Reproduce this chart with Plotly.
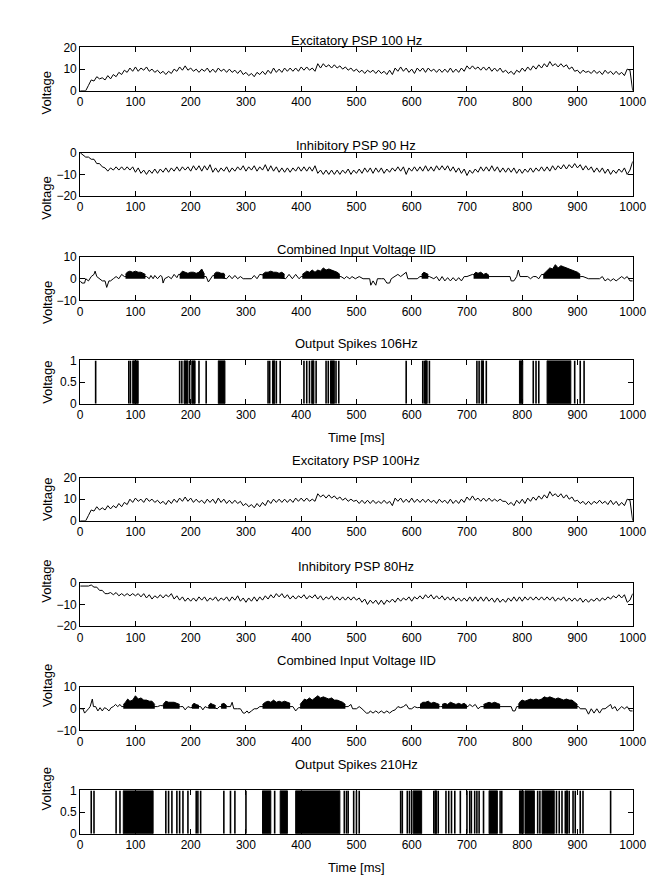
import numpy as np
import plotly.graph_objects as go

# ---------------- data ----------------
titles = ["Excitatory PSP 100 Hz", "Inhibitory PSP 90 Hz", "Combined Input Voltage IID",
          "Output Spikes 106Hz", "Excitatory PSP 100Hz", "Inhibitory PSP 80Hz",
          "Combined Input Voltage IID", "Output Spikes 210Hz"]
y_ranges = [[0, 20], [-20, 0], [-10, 10], [0, 1], [0, 20], [-20, 0], [-10, 10], [0, 1]]
y_ticks = [[0, 10, 20], [-20, -10, 0], [-10, 0, 10], [0, 0.5, 1],
           [0, 10, 20], [-20, -10, 0], [-10, 0, 10], [0, 0.5, 1]]
x_ticks = [0, 100, 200, 300, 400, 500, 600, 700, 800, 900, 1000]

# PSP traces: samples every 5 ms from 0 to 995, then the final sample at 1000
exc1 = [0, 0, 0, 2.5, 5, 4.5, 6.5, 5.5, 6, 5, 7, 5.5, 7.5, 6.5, 8.5, 7.5, 9.5, 8.5, 10.5, 9,
        11, 9, 10.5, 9.5, 11, 9, 10, 8.5, 9.5, 8, 9, 7.5, 9, 8, 10, 9, 11, 9.5, 11.5, 9.5,
        10.5, 9, 10, 8.5, 10, 9, 10.5, 8.5, 10, 8.5, 10.5, 9, 10, 8.5, 10, 8.5, 9.5, 8, 9.5, 7.5,
        8.5, 7, 8, 6.5, 8.5, 7.5, 9, 7.5, 9.5, 8, 10.5, 8.5, 10, 8.5, 10.5, 9, 10.5, 9, 10.5, 9,
        11, 9.5, 11, 9.5, 10.5, 9, 12.5, 10.5, 12.5, 11, 12, 10.5, 12, 10.5, 11.5, 10, 11, 9.5, 10.5, 9,
        10, 8.5, 9.5, 8, 9.5, 8.5, 9.5, 8, 9.5, 8, 9, 7.5, 9.5, 7.5, 10.5, 9, 11, 9, 10.5, 8.5,
        10, 8, 10.5, 9, 10.5, 8.5, 10.5, 9, 10, 8.5, 10, 8.5, 10, 8.5, 10.5, 8.5, 10, 8.5, 10.5, 9,
        11.5, 10, 11.5, 10, 11, 9.5, 11, 9.5, 11, 9, 10.5, 9, 10.5, 8.5, 9.5, 8, 9, 7.5, 9.5, 8.5,
        10.5, 9, 11, 9.5, 11.5, 10, 12, 10.5, 12.5, 11, 13.5, 11.5, 12.5, 11, 12.5, 11, 12, 10, 11, 9,
        9.5, 8, 9.5, 8.5, 9, 8, 9.5, 8, 9, 7.5, 9.5, 8, 9, 7.5, 9, 7.5, 8.5, 7, 10, 9.5,
        0]
inh1 = [0, -1, -2, -2, -3, -3, -5, -5, -6.5, -7, -8.5, -7, -8, -6.5, -8, -6.5, -8, -6.5, -8, -6.5,
        -9, -7, -9.5, -8, -10, -8, -9.5, -7.5, -9.5, -7.5, -9, -7, -9, -7, -8.5, -6.5, -8.5, -6.5, -8, -6.5,
        -8.5, -6, -8, -6, -8.5, -6, -8, -5.5, -9, -7, -9, -7, -8.5, -6.5, -9, -7, -8.5, -6.5, -8, -6,
        -8.5, -6.5, -8, -6, -8.5, -6.5, -8, -5.5, -8.5, -6, -8.5, -6.5, -9, -7, -9, -7, -9, -7, -8.5, -6.5,
        -8.5, -6.5, -8.5, -6.5, -8.5, -6, -9.5, -8, -10, -8, -10, -8, -10, -8, -10, -8, -9.5, -7.5, -10, -8,
        -9.5, -7.5, -9.5, -7, -9, -7, -9.5, -7, -9, -7, -9.5, -7.5, -9, -7, -8.5, -6.5, -8.5, -6.5, -10, -7,
        -8.5, -6.5, -8.5, -6.5, -8.5, -6, -8.5, -6.5, -8.5, -6, -8, -6, -8, -6, -8.5, -6.5, -9, -7, -9.5, -7.5,
        -10.5, -8, -9.5, -7.5, -9, -6.5, -8.5, -6.5, -8.5, -6, -8.5, -6.5, -9, -7, -9, -7, -9, -7, -9.5, -7.5,
        -9.5, -7.5, -9, -7, -9, -7, -8.5, -6.5, -8.5, -6.5, -8.5, -6, -8, -6, -7.5, -5.5, -7.5, -5.5, -7, -5,
        -7, -5.5, -8, -6, -8, -6.5, -9, -7, -9, -7, -9.5, -7.5, -10, -8, -9.5, -7.5, -9, -7, -10, -8,
        -4]
exc2 = [0, 0, 0, 2.5, 5, 4.5, 6.5, 5, 6, 5, 7, 5.5, 7, 6, 8, 6.5, 8.5, 7.5, 10, 8.5,
        10.5, 9, 10, 8.5, 10.5, 9, 10, 8.5, 9.5, 8, 9, 7.5, 9.5, 8, 10, 8.5, 10.5, 9, 11, 9,
        10.5, 8.5, 10, 8.5, 9.5, 8, 10, 8.5, 10, 8, 10.5, 8.5, 10, 8, 9.5, 8, 9.5, 8, 9, 7,
        8, 6.5, 7.5, 6, 8, 6.5, 8.5, 7, 9.5, 8, 10, 8.5, 10, 8.5, 10, 8.5, 10, 8.5, 10.5, 9,
        10.5, 9, 10.5, 9, 10, 9, 12.5, 11, 12, 10.5, 12, 10.5, 11.5, 10, 11, 9.5, 10.5, 9, 10, 9,
        9.5, 8, 9.5, 8, 9.5, 8, 9.5, 8, 9, 8, 9.5, 8, 9, 7, 10.5, 9, 10.5, 8.5, 10, 8.5,
        10.5, 8.5, 10, 8.5, 10, 8.5, 10, 8.5, 9.5, 8, 10, 8.5, 9.5, 8, 10, 8, 9.5, 8, 10, 8.5,
        11, 9.5, 11.5, 9.5, 10.5, 9, 10.5, 9, 10.5, 9, 10, 9, 10, 9, 9, 7.5, 8.5, 7, 9.5, 8,
        10, 8, 10.5, 9, 11, 9.5, 11.5, 10, 12, 10.5, 13.5, 11.5, 12.5, 11, 12.5, 10.5, 12, 10, 11, 9,
        9.5, 8, 9, 7.5, 9, 7.5, 9, 8, 9.5, 8, 9, 7.5, 9.5, 7.5, 9, 7, 8.5, 7, 10, 9.5,
        0]
inh2 = [-1.5, -1.5, -1.5, -1.5, -1, -2, -2, -3.5, -3.5, -5, -5, -4.5, -5.5, -4.5, -6, -5, -6, -5, -6, -5,
        -6, -5, -6.5, -5, -7, -5.5, -7.5, -6, -7, -5.5, -7, -5.5, -6.5, -5, -7.5, -6, -8, -6.5, -8.5, -7,
        -8.5, -7, -8.5, -6.5, -8, -6.5, -8.5, -7, -8, -6.5, -8.5, -7, -8, -6.5, -8.5, -6.5, -8, -6, -8.5, -7,
        -9, -7, -8.5, -6.5, -8.5, -6.5, -8, -6, -7.5, -5.5, -7, -5, -6.5, -5, -7, -5.5, -7.5, -6, -7.5, -6,
        -7, -5.5, -7.5, -6, -7, -5.5, -7.5, -6, -8, -6.5, -7.5, -6, -8, -6.5, -8, -6.5, -8, -6.5, -8, -6.5,
        -8, -7, -9, -7.5, -10, -8, -9.5, -8, -10, -8, -10, -8, -9, -7.5, -9, -7, -8.5, -7, -8, -6.5,
        -8.5, -6.5, -7.5, -6, -7.5, -5.5, -7, -5.5, -7.5, -6, -7.5, -6, -8, -6.5, -8, -6.5, -8.5, -7, -8.5, -7,
        -8.5, -6.5, -8.5, -6.5, -8.5, -6.5, -8.5, -6.5, -8.5, -7, -9, -7, -9, -7.5, -9, -7, -8.5, -6.5, -8.5, -6.5,
        -8.5, -6.5, -8, -6.5, -8, -6.5, -8, -6.5, -8, -6.5, -8, -6.5, -8.5, -7, -8, -6.5, -8.5, -7, -8.5, -7,
        -8.5, -7, -9, -7.5, -9, -7.5, -8.5, -7, -8.5, -7, -8, -6.5, -7.5, -6, -7, -5.5, -7, -5.5, -9, -8,
        -5]

# Combined input: sparse line vertices (time, voltage)
comb1_t = [0, 3, 8, 10, 15, 20, 25, 27, 30, 35, 40, 45, 48, 52, 55, 60, 65, 70, 75, 80,
           100, 120, 125, 128, 132, 135, 140, 145, 148, 150, 153, 160, 165, 170, 175, 178,
           200, 228, 232, 236, 240, 250, 265, 270, 275, 280, 285, 290, 295, 300, 310, 315, 320, 325,
           350, 372, 378, 384, 390, 396, 400, 440, 472, 478, 482, 488, 492, 498, 505, 512, 520, 524,
           526, 530, 535, 538, 545, 550, 555, 560, 563, 570, 575, 580, 585, 590, 593, 600, 610, 615,
           625, 632, 640, 645, 650, 655, 660, 665, 670, 675, 680, 685, 690, 695, 700, 710, 725, 742,
           750, 760, 770, 778, 780, 785, 790, 793, 796, 800, 810, 815, 820, 825, 830, 835, 870, 905,
           910, 920, 930, 940, 945, 950, 955, 960, 965, 970, 975, 980, 985, 990, 995, 1000]
comb1_v = [-1, -2, -2, 0, -1, 1, 2, 3.5, 1, 0, -1, -1, -4, -1, -1, 0, 1, 0, 2, 1,
           1, 1, 0, 1.5, 0, 1.5, 0, 1.5, 1, -2, 0, 1, 0, 2, 0.5, 2,
           1, 1, -1.5, 0, 1.5, 1, 0, 1.5, 0, 1.5, 0, 1, 0, 0, 0, 1.5, 0, 2,
           1, 0, 2, 0, 2, 0, 1, 1, 1, 0, 1, 0, 1, 0, 1, 0, 0, 0,
           -3, -1, -3, 0, 0, 0, -2, -2, 0, 1, 2, 1, 2, 3, 0, 0, 0, 1,
           1, 1, 0, 1, -1, 1, -1, 0.5, -1, 0.5, -1, 0.5, -1, 1, 1, 2, 1, 1,
           1, 1, 1, 1, -1, -1, 1, 4, 1, 1, 1, 0, 1, 1, 0, 2, 1, 1,
           1, 0, 0, 0, 1, -1, 0, -1, 0, -1, 0, 1, 0, 1, -1, -1]
# Dense bursts of input (solid black in the picture): (times, upper envelope)
comb1_bursts = [
    ([82, 85, 90, 95, 100, 105, 110, 115, 118], [2, 3, 3.5, 3, 3.5, 3, 3, 2.5, 2]),
    ([180, 185, 190, 195, 200, 205, 210, 215, 220, 225], [2, 3.5, 3, 2.5, 3, 3, 2.5, 3, 4.5, 2]),
    ([242, 246, 250, 255, 260, 262], [2, 3, 3, 2.5, 2.5, 1.5]),
    ([330, 335, 340, 345, 350, 355, 360, 365, 370], [2, 3, 3, 3.5, 3, 3, 2.5, 3, 2]),
    ([402, 410, 415, 420, 425, 430, 435, 440, 445, 450, 455, 460, 465, 470],
     [2, 3.5, 3, 4, 3, 4, 3.5, 5, 4, 4.5, 4, 3.5, 3, 2]),
    ([618, 622, 626, 630], [2, 3, 2.5, 2]),
    ([712, 716, 720, 725, 730, 735, 740], [2, 3, 2.5, 3, 2, 2.5, 1.5]),
    ([838, 842, 846, 850, 855, 860, 865, 870, 875, 880, 885, 890, 895, 900, 905],
     [2, 3, 4, 5, 4.5, 6.5, 5, 6, 5.5, 5, 4.5, 4, 3.5, 3, 2]),
]

comb2_t = [0, 5, 8, 12, 15, 18, 20, 22, 24, 28, 32, 36, 40, 44, 48, 52, 56, 60, 64, 68, 72, 75,
           105, 136, 140, 145, 165, 182, 186, 190, 195, 200, 208, 218, 222, 226, 230, 238, 248, 252,
           260, 268, 272, 275, 278, 285, 290, 295, 298, 302, 305, 310, 315, 320, 325, 355, 385, 390,
           395, 440, 485, 490, 493, 500, 505, 510, 515, 518, 522, 525, 530, 535, 540, 545, 550, 555,
           560, 565, 570, 575, 580, 585, 590, 595, 600, 605, 610, 630, 652, 680, 702, 705, 710, 715,
           720, 725, 745, 762, 768, 775, 780, 783, 787, 790, 850, 902, 905, 910, 915, 920, 925, 930,
           935, 940, 945, 950, 955, 960, 963, 968, 972, 976, 980, 985, 990, 995, 1000]
comb2_v = [0, 0, -2, -1, 0, 1, 3, 4.5, 1, 1, -1, 0.5, -1, 0.5, 0, -1, 0.5, 1, 2, 1, 2, 1,
           1, 1, 1, 1.5, 1, 1, 1, -0.5, 1, 0.5, 1, 1, -0.5, 1, 0.5, 1, 0, 1,
           1, 1, 1, 3, 0, 0, 0, -2, -2, -1, -2, -1, 0, 0, 1, 1, 1, -1,
           0.5, 1, 1, 2, 0, 0, 1, 0, -1, -2, -2, -1, -2, -1, -2, -1, -2, -1,
           -2, -1, -0.5, 1, 0.5, 1, 2, 0, 0, 1, 0.5, 1, 1, 1, 1, 2, 1, 2,
           0, 1, 1, 1, 1, 1, 1, -1, -1, 1, 1, 1, 0, 0, 0, -2.5, 0, -2,
           0, -2, 0, 0, 1, 2, 0, 1, -1, 0, 1, 0, 1, -1, -1]
comb2_bursts = [
    ([78, 82, 86, 90, 95, 100, 105, 110, 115, 120, 125, 130, 135],
     [2, 3, 4.5, 3.5, 4, 6, 4.5, 5, 4, 4, 3.5, 3.5, 2]),
    ([150, 155, 160, 165, 170, 175, 180], [2, 3.5, 3, 3, 3, 2.5, 2]),
    ([202, 206, 210, 215], [1.5, 2.5, 2, 1.5]),
    ([232, 236, 240, 245], [1.5, 2.5, 2, 1.5]),
    ([255, 260, 265], [2, 2.5, 1.5]),
    ([330, 335, 340, 345, 350, 355, 360, 365, 370, 375, 380], [2, 3, 3.5, 3, 4, 3, 3.5, 3, 3.5, 3, 2.5]),
    ([398, 402, 406, 410, 415, 420, 425, 430, 435, 440, 445, 450, 455, 460, 465, 470, 475, 480],
     [2, 3.5, 4.5, 4, 5, 4, 5, 6, 5, 5.5, 5, 4.5, 5, 4, 4, 3.5, 3, 2]),
    ([615, 620, 625, 630, 635, 640, 645, 650], [2, 3, 3, 3.5, 2.5, 3, 2.5, 2]),
    ([655, 660, 665, 670, 675, 680, 685, 690, 695, 700], [2, 2.5, 2, 3, 2.5, 2, 2.5, 2, 2.5, 1.5]),
    ([730, 735, 740, 745, 750, 755, 760], [2, 2.5, 3, 2.5, 3, 2.5, 2]),
    ([793, 797, 800, 805, 810, 815, 820, 825, 830, 835, 840, 845, 850, 855, 860, 865, 870, 875,
      880, 885, 890, 895, 900],
     [2, 3.5, 4, 3.5, 4, 4.5, 4, 4.5, 4, 4.5, 5.5, 5, 5.5, 5, 4.5, 5, 4.5, 4, 4.5, 4, 4, 3, 2]),
]

# Output spikes: isolated spike times and solid spike blocks (start, end)
spikes1 = [28, 88, 91, 180, 184, 198, 215, 228, 340, 343, 355, 362, 405, 410, 415, 427,
           445, 449, 463, 468, 590, 620, 623, 632, 718, 722, 735, 820, 825, 830, 895, 905, 912]
spikes1_blocks = [(95, 105), (188, 195), (202, 208), (250, 262), (348, 352), (419, 423),
                  (453, 460), (624, 628), (726, 730), (795, 801), (845, 888)]
spikes2 = [20, 25, 65, 72, 155, 160, 166, 175, 180, 186, 195, 210, 213, 218, 260, 272, 280, 300,
           352, 478, 482, 485, 495, 500, 505, 580, 583, 592, 596, 600, 640, 648, 662, 667,
           672, 678, 688, 700, 705, 708, 714, 718, 722, 730, 760, 763, 828, 832, 862, 867,
           872, 878, 885, 892, 896, 905, 910, 960]
spikes2_blocks = [(78, 132), (330, 345), (362, 375), (390, 470), (603, 618), (642, 645),
                  (740, 755), (795, 802), (805, 822), (836, 858), (880, 882)]

# ---------------- figure ----------------
W, H = 666, 879
x_left, x_right = 71, 638
tops = [33, 140, 246, 351, 470, 577, 683, 788]
ph = 44
FONT = "Liberation Sans"

fig = go.Figure()
t5 = np.arange(0, 1000, 5).tolist() + [1000]


def line(ax, x, y, w=1):
    fig.add_trace(go.Scatter(x=x, y=y, mode="lines", line=dict(color="black", width=w),
                             xaxis="x%d" % ax, yaxis="y%d" % ax, showlegend=False,
                             hoverinfo="skip"))


def bursts(ax, blist):
    for bt, bv in blist:
        fig.add_trace(go.Scatter(x=bt, y=bv, mode="lines", fill="tozeroy", fillcolor="black",
                                 line=dict(color="black", width=1),
                                 xaxis="x%d" % ax, yaxis="y%d" % ax, showlegend=False,
                                 hoverinfo="skip"))


def spikes(ax, st, blocks):
    xs, ys = [], []
    for s in st:
        xs += [s, s, None]
        ys += [0, 1, None]
    line(ax, xs, ys, 1.6)
    bx, by = [], []
    for s, e in blocks:
        bx += [s, e, e, s, s, None]
        by += [0, 0, 1, 1, 0, None]
    fig.add_trace(go.Scatter(x=bx, y=by, mode="lines", fill="toself", fillcolor="black",
                             line=dict(color="black", width=1),
                             xaxis="x%d" % ax, yaxis="y%d" % ax, showlegend=False,
                             hoverinfo="skip"))


line(1, t5, exc1)
line(2, t5, inh1)
bursts(3, comb1_bursts)
line(3, comb1_t, comb1_v)
spikes(4, spikes1, spikes1_blocks)
line(5, t5, exc2)
line(6, t5, inh2)
bursts(7, comb2_bursts)
line(7, comb2_t, comb2_v)
spikes(8, spikes2, spikes2_blocks)

layout = dict(width=W, height=H, margin=dict(l=0, r=0, t=0, b=0),
              paper_bgcolor="white", plot_bgcolor="white",
              font=dict(family=FONT, size=11, color="black"), annotations=[])
axis_common = dict(showline=True, linecolor="black", linewidth=1, mirror="allticks",
                   ticks="inside", ticklen=5, tickcolor="black", tickwidth=1,
                   showgrid=False, zeroline=False, fixedrange=True,
                   tickfont=dict(family=FONT, size=12, color="black"))
xd = [x_left / W, x_right / W]
for i in range(8):
    k = i + 1
    top, bot = tops[i], tops[i] + ph
    yd = [1 - bot / H, 1 - top / H]
    layout["xaxis%d" % k] = dict(axis_common, domain=xd, range=[0, 1000], tickvals=x_ticks,
                                 anchor="y%d" % k)
    layout["yaxis%d" % k] = dict(axis_common, domain=yd, range=y_ranges[i],
                                 tickvals=y_ticks[i], anchor="x%d" % k)
    layout["annotations"].append(dict(text=titles[i], x=(x_left + x_right) / 2 / W,
                                      y=1 - (top - 17) / H, xref="paper", yref="paper",
                                      showarrow=False, font=dict(family=FONT, size=13)))
    layout["annotations"].append(dict(text="Voltage", x=27 / W, y=1 - (top + ph / 2) / H,
                                      xref="paper", yref="paper", textangle=-90,
                                      showarrow=False, font=dict(family=FONT, size=13)))
    if k in (4, 8):
        layout["annotations"].append(dict(text="Time [ms]", x=(x_left + x_right) / 2 / W,
                                          y=1 - (bot + 25) / H, xref="paper", yref="paper",
                                          yanchor="top", showarrow=False,
                                          font=dict(family=FONT, size=13)))

fig.update_layout(**layout)
fig.write_html("out.html")
